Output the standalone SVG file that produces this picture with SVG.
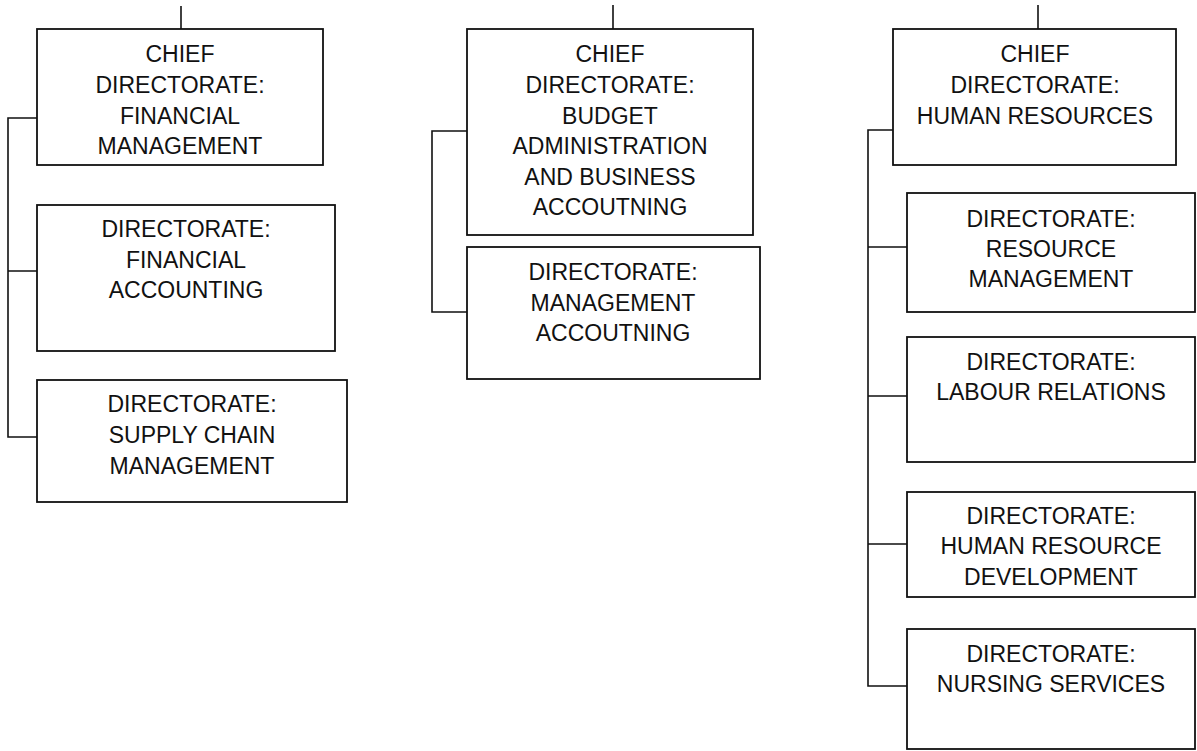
<svg xmlns="http://www.w3.org/2000/svg" width="1197" height="751" viewBox="0 0 1197 751">
<style>
.box{fill:#fff;stroke:#111;stroke-width:1.8}
.ln{fill:none;stroke:#111;stroke-width:1.6}
text{font-family:"Liberation Sans",Arial,sans-serif;font-size:23px;fill:#111;text-anchor:middle}
</style>
<rect width="1197" height="751" fill="#fff"/>
<g id="connectors">
<path class="ln" d="M181,6V29"/>
<path class="ln" d="M613,5V29"/>
<path class="ln" d="M1038,5V29"/>
<path class="ln" d="M37,118H8V437H37M8,271H37"/>
<path class="ln" d="M467,131H432V312H467"/>
<path class="ln" d="M893,130H868V686H907M868,247H907M868,396H907M868,544H907"/>
</g>
<g id="cd-financial-management">
<rect class="box" x="37" y="29" width="286" height="136"/>
<text x="180" y="62">CHIEF</text>
<text x="180" y="93">DIRECTORATE:</text>
<text x="180" y="123.5">FINANCIAL</text>
<text x="180" y="154">MANAGEMENT</text>
</g>
<g id="d-financial-accounting">
<rect class="box" x="37" y="205" width="298" height="146"/>
<text x="186" y="236.5">DIRECTORATE:</text>
<text x="186" y="267.5">FINANCIAL</text>
<text x="186" y="298">ACCOUNTING</text>
</g>
<g id="d-supply-chain">
<rect class="box" x="37" y="380" width="310" height="122"/>
<text x="192" y="412">DIRECTORATE:</text>
<text x="192" y="443">SUPPLY CHAIN</text>
<text x="192" y="473.5">MANAGEMENT</text>
</g>
<g id="cd-budget">
<rect class="box" x="467" y="29" width="286" height="206"/>
<text x="610" y="62">CHIEF</text>
<text x="610" y="92.5">DIRECTORATE:</text>
<text x="610" y="123.5">BUDGET</text>
<text x="610" y="154">ADMINISTRATION</text>
<text x="610" y="184.5">AND BUSINESS</text>
<text x="610" y="215">ACCOUTNING</text>
</g>
<g id="d-management-accounting">
<rect class="box" x="467" y="247" width="293" height="132"/>
<text x="613" y="280">DIRECTORATE:</text>
<text x="613" y="310.5">MANAGEMENT</text>
<text x="613" y="341">ACCOUTNING</text>
</g>
<g id="cd-human-resources">
<rect class="box" x="893" y="29" width="283" height="136"/>
<text x="1035" y="62">CHIEF</text>
<text x="1035" y="93">DIRECTORATE:</text>
<text x="1035" y="123.5">HUMAN RESOURCES</text>
</g>
<g id="d-resource-management">
<rect class="box" x="907" y="193" width="288" height="119"/>
<text x="1051" y="226.5">DIRECTORATE:</text>
<text x="1051" y="257">RESOURCE</text>
<text x="1051" y="287">MANAGEMENT</text>
</g>
<g id="d-labour-relations">
<rect class="box" x="907" y="337" width="288" height="125"/>
<text x="1051" y="370">DIRECTORATE:</text>
<text x="1051" y="400">LABOUR RELATIONS</text>
</g>
<g id="d-hr-development">
<rect class="box" x="907" y="492" width="288" height="105"/>
<text x="1051" y="523.5">DIRECTORATE:</text>
<text x="1051" y="554">HUMAN RESOURCE</text>
<text x="1051" y="584.5">DEVELOPMENT</text>
</g>
<g id="d-nursing-services">
<rect class="box" x="907" y="629" width="288" height="120"/>
<text x="1051" y="661.5">DIRECTORATE:</text>
<text x="1051" y="692">NURSING SERVICES</text>
</g>
</svg>
